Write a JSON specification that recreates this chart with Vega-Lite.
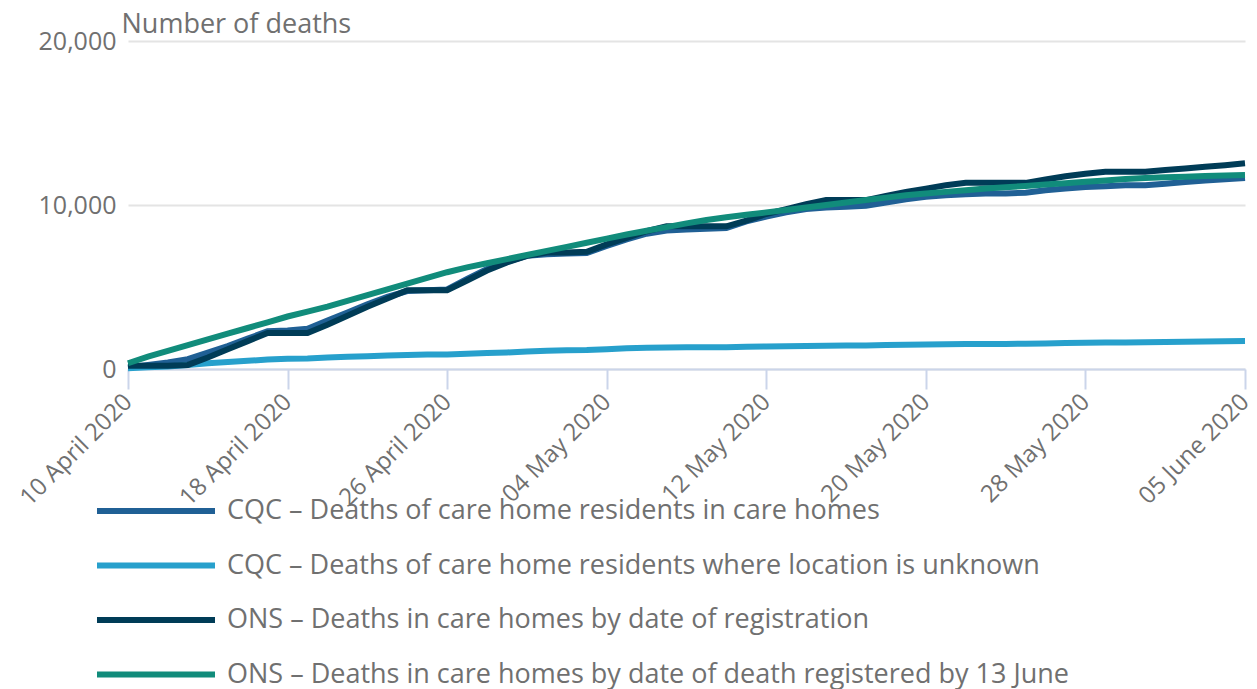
{
  "$schema": "https://vega.github.io/schema/vega-lite/v6.json",
  "autosize": {"type": "none"},
  "padding": {"left": 121, "top": 41, "right": 0, "bottom": 320},
  "width": 1136,
  "height": 328,
  "config": {
    "font": "Open Sans",
    "view": {"stroke": null}
  },
  "datasets": {
    "names": [
      {"key": "a", "name": "CQC – Deaths of care home residents in care homes"},
      {"key": "b", "name": "CQC – Deaths of care home residents where location is unknown"},
      {"key": "c", "name": "ONS – Deaths in care homes by date of registration"},
      {"key": "d", "name": "ONS – Deaths in care homes by date of death registered by 13 June"}
    ],
    "deaths": [
      {"date": "2020-04-10", "a": 100, "b": 50, "c": 200, "d": 350},
      {"date": "2020-04-11", "a": 250, "b": 100, "c": 200, "d": 750},
      {"date": "2020-04-12", "a": 400, "b": 150, "c": 200, "d": 1100},
      {"date": "2020-04-13", "a": 600, "b": 250, "c": 250, "d": 1450},
      {"date": "2020-04-14", "a": 1000, "b": 350, "c": 700, "d": 1800},
      {"date": "2020-04-15", "a": 1400, "b": 420, "c": 1200, "d": 2150},
      {"date": "2020-04-16", "a": 1850, "b": 500, "c": 1700, "d": 2500},
      {"date": "2020-04-17", "a": 2300, "b": 580, "c": 2200, "d": 2850},
      {"date": "2020-04-18", "a": 2350, "b": 620, "c": 2200, "d": 3200},
      {"date": "2020-04-19", "a": 2450, "b": 640, "c": 2200, "d": 3500},
      {"date": "2020-04-20", "a": 2950, "b": 700, "c": 2700, "d": 3800},
      {"date": "2020-04-21", "a": 3450, "b": 740, "c": 3250, "d": 4150},
      {"date": "2020-04-22", "a": 3950, "b": 780, "c": 3800, "d": 4500},
      {"date": "2020-04-23", "a": 4400, "b": 820, "c": 4300, "d": 4850},
      {"date": "2020-04-24", "a": 4750, "b": 860, "c": 4800, "d": 5200},
      {"date": "2020-04-25", "a": 4800, "b": 880, "c": 4800, "d": 5550},
      {"date": "2020-04-26", "a": 4850, "b": 890, "c": 4800, "d": 5900},
      {"date": "2020-04-27", "a": 5500, "b": 930, "c": 5400, "d": 6200},
      {"date": "2020-04-28", "a": 6100, "b": 970, "c": 6000, "d": 6450},
      {"date": "2020-04-29", "a": 6550, "b": 1010, "c": 6500, "d": 6700},
      {"date": "2020-04-30", "a": 6900, "b": 1060, "c": 6900, "d": 6950},
      {"date": "2020-05-01", "a": 7000, "b": 1110, "c": 7100, "d": 7200},
      {"date": "2020-05-02", "a": 7050, "b": 1140, "c": 7100, "d": 7450},
      {"date": "2020-05-03", "a": 7080, "b": 1160, "c": 7150, "d": 7700},
      {"date": "2020-05-04", "a": 7500, "b": 1210, "c": 7600, "d": 7950},
      {"date": "2020-05-05", "a": 7900, "b": 1260, "c": 8000, "d": 8200},
      {"date": "2020-05-06", "a": 8250, "b": 1290, "c": 8400, "d": 8430},
      {"date": "2020-05-07", "a": 8450, "b": 1310, "c": 8700, "d": 8650},
      {"date": "2020-05-08", "a": 8500, "b": 1320, "c": 8700, "d": 8880},
      {"date": "2020-05-09", "a": 8550, "b": 1320, "c": 8700, "d": 9080},
      {"date": "2020-05-10", "a": 8600, "b": 1330, "c": 8700, "d": 9250},
      {"date": "2020-05-11", "a": 9000, "b": 1350, "c": 9050, "d": 9400},
      {"date": "2020-05-12", "a": 9300, "b": 1370, "c": 9450, "d": 9550},
      {"date": "2020-05-13", "a": 9550, "b": 1390, "c": 9750, "d": 9700},
      {"date": "2020-05-14", "a": 9750, "b": 1410, "c": 10050, "d": 9850},
      {"date": "2020-05-15", "a": 9850, "b": 1420, "c": 10300, "d": 10000},
      {"date": "2020-05-16", "a": 9900, "b": 1430, "c": 10300, "d": 10150},
      {"date": "2020-05-17", "a": 9950, "b": 1440, "c": 10300, "d": 10300},
      {"date": "2020-05-18", "a": 10150, "b": 1460, "c": 10550, "d": 10450},
      {"date": "2020-05-19", "a": 10350, "b": 1480, "c": 10800, "d": 10600},
      {"date": "2020-05-20", "a": 10500, "b": 1500, "c": 11000, "d": 10700},
      {"date": "2020-05-21", "a": 10600, "b": 1510, "c": 11200, "d": 10800},
      {"date": "2020-05-22", "a": 10650, "b": 1520, "c": 11350, "d": 10900},
      {"date": "2020-05-23", "a": 10700, "b": 1530, "c": 11350, "d": 11000},
      {"date": "2020-05-24", "a": 10700, "b": 1530, "c": 11350, "d": 11080},
      {"date": "2020-05-25", "a": 10750, "b": 1540, "c": 11350, "d": 11160},
      {"date": "2020-05-26", "a": 10900, "b": 1560, "c": 11550, "d": 11250},
      {"date": "2020-05-27", "a": 11000, "b": 1580, "c": 11750, "d": 11330},
      {"date": "2020-05-28", "a": 11100, "b": 1600, "c": 11900, "d": 11420},
      {"date": "2020-05-29", "a": 11150, "b": 1610, "c": 12030, "d": 11500},
      {"date": "2020-05-30", "a": 11200, "b": 1620, "c": 12030, "d": 11580},
      {"date": "2020-05-31", "a": 11200, "b": 1630, "c": 12030, "d": 11650},
      {"date": "2020-06-01", "a": 11300, "b": 1650, "c": 12130, "d": 11690},
      {"date": "2020-06-02", "a": 11400, "b": 1660, "c": 12230, "d": 11730},
      {"date": "2020-06-03", "a": 11500, "b": 1680, "c": 12330, "d": 11770},
      {"date": "2020-06-04", "a": 11570, "b": 1690, "c": 12430, "d": 11800},
      {"date": "2020-06-05", "a": 11650, "b": 1700, "c": 12540, "d": 11830}
    ]
  },
  "data": {"name": "deaths"},
  "transform": [
    {"fold": ["a", "b", "c", "d"], "as": ["key", "value"]},
    {"lookup": "key", "from": {"data": {"name": "names"}, "key": "key", "fields": ["name"]}}
  ],
  "mark": {"type": "line", "strokeWidth": 6, "strokeJoin": "miter", "strokeCap": "butt"},
  "encoding": {
    "x": {
      "field": "date",
      "type": "temporal",
      "scale": {"type": "utc", "range": [7, 1124]},
      "axis": {
        "title": null,
        "labelExpr": "(utcdate(datum.value) < 10 ? '0' : '') + utcdate(datum.value) + ' ' + ['January','February','March','April','May','June','July','August','September','October','November','December'][utcmonth(datum.value)] + ' ' + utcyear(datum.value)",
        "values": [
          {"year": 2020, "month": 4, "date": 10, "utc": true},
          {"year": 2020, "month": 4, "date": 18, "utc": true},
          {"year": 2020, "month": 4, "date": 26, "utc": true},
          {"year": 2020, "month": 5, "date": 4, "utc": true},
          {"year": 2020, "month": 5, "date": 12, "utc": true},
          {"year": 2020, "month": 5, "date": 20, "utc": true},
          {"year": 2020, "month": 5, "date": 28, "utc": true},
          {"year": 2020, "month": 6, "date": 5, "utc": true}
        ],
        "labelAngle": -45,
        "labelAlign": "right",
        "labelBaseline": "middle",
        "labelFontSize": 24,
        "labelColor": "#707070",
        "labelPadding": 9,
        "labelOverlap": false,
        "labelFlush": false,
        "labelBound": false,
        "domainColor": "#cbd5ea",
        "domainWidth": 2,
        "tickColor": "#cbd5ea",
        "tickWidth": 2,
        "tickSize": 20,
        "grid": false
      }
    },
    "y": {
      "field": "value",
      "type": "quantitative",
      "scale": {"domain": [0, 20000], "nice": false},
      "axis": {
        "title": "Number of deaths",
        "titleAngle": 0,
        "titleAlign": "left",
        "titleBaseline": "alphabetic",
        "titleX": 0,
        "titleY": -9,
        "titleFontSize": 27,
        "titleFontWeight": "normal",
        "titleColor": "#707070",
        "values": [0, 10000, 20000],
        "labelExpr": "datum.value >= 1000 ? floor(datum.value / 1000) + ',' + slice('000' + (datum.value % 1000), -3) : '' + datum.value",
        "labelFontSize": 25,
        "labelColor": "#707070",
        "labelPadding": 5,
        "ticks": false,
        "domain": false,
        "grid": true,
        "gridColor": "#e4e4e4",
        "gridWidth": 2
      }
    },
    "color": {
      "field": "name",
      "type": "nominal",
      "scale": {
        "domain": [
          "CQC – Deaths of care home residents in care homes",
          "CQC – Deaths of care home residents where location is unknown",
          "ONS – Deaths in care homes by date of registration",
          "ONS – Deaths in care homes by date of death registered by 13 June"
        ],
        "range": ["#206095", "#27a0cc", "#003c57", "#118c7b"]
      },
      "legend": {
        "title": null,
        "orient": "none",
        "legendX": 20,
        "legendY": 455,
        "direction": "vertical",
        "padding": 0,
        "symbolType": "M-5,0H5",
        "symbolSize": 557,
        "symbolStrokeWidth": 6,
        "symbolFillColor": null,
        "labelFontSize": 27,
        "labelColor": "#707070",
        "labelOffset": 56,
        "labelLimit": 0,
        "rowPadding": 26.5
      }
    }
  }
}
